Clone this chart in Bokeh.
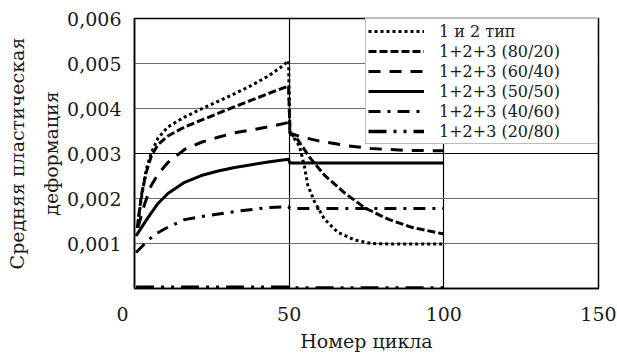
from bokeh.plotting import figure
from bokeh.models import FixedTicker, CustomJSTickFormatter, Span, Legend, LegendItem, Range1d
from bokeh.embed import file_html
from bokeh.resources import INLINE

# ---- data ----
x_type12 = [0.9, 2.2, 3.8, 5.4, 7.6, 10.8, 16.2, 21.6, 27, 32.4, 38, 43.2, 47, 49.8,
            50.2, 51.5, 53.3, 54.9, 56.0, 58.2, 61.4, 65.7, 71.1, 76.5, 82, 87.3, 93, 100]
y_type12 = [0.00135, 0.00200, 0.00265, 0.00301, 0.00334, 0.00359, 0.00381, 0.00399, 0.00416,
            0.00433, 0.00452, 0.00472, 0.00490, 0.00506,
            0.00346, 0.00335, 0.00317, 0.00273, 0.00230, 0.00193, 0.00154, 0.00125, 0.00108,
            0.00100, 0.00099, 0.00099, 0.00099, 0.00099]

x_8020 = [0.9, 2.2, 3.8, 5.4, 7.6, 10.8, 16.2, 21.6, 27, 32.4, 38, 43.2, 49.8,
          50.3, 52.7, 57.0, 61.4, 68.0, 74.5, 82.0, 89.6, 100]
y_8020 = [0.00135, 0.00207, 0.00258, 0.00294, 0.00320, 0.00339, 0.00359, 0.00374, 0.00389,
          0.00404, 0.00419, 0.00433, 0.00450,
          0.00345, 0.00331, 0.00288, 0.00252, 0.00212, 0.00179, 0.00154, 0.00136, 0.00121]

x_6040 = [1.1, 3.2, 5.4, 7.6, 10.8, 16.2, 21.6, 27, 32.4, 43.2, 49.8,
          50.3, 53.8, 59.5, 68.0, 76.5, 87.3, 100]
y_6040 = [0.00135, 0.00186, 0.00229, 0.00254, 0.00280, 0.00309, 0.00325, 0.00336, 0.00346,
          0.00359, 0.00369,
          0.00345, 0.00337, 0.00328, 0.00318, 0.00311, 0.00307, 0.00306]

x_5050 = [0.5, 4.3, 7.6, 10.8, 16.2, 21.6, 27, 32.4, 43.2, 49.8, 50.2, 100]
y_5050 = [0.00117, 0.00157, 0.00189, 0.00211, 0.00236, 0.00251, 0.00261, 0.00269, 0.00281,
          0.00287, 0.00279, 0.00279]

x_4060 = [0.5, 3.2, 6.5, 10.8, 16.2, 21.6, 32.4, 43.2, 49.8, 50.2, 100]
y_4060 = [0.00080, 0.00099, 0.00120, 0.00136, 0.00153, 0.00160, 0.00171, 0.00180, 0.00182,
          0.00178, 0.00178]

x_2080 = [0.5, 50, 50.2, 100]
y_2080 = [0.00003, 0.00003, 0.00001, 0.00001]

labels = ["1 и 2 тип", "1+2+3 (80/20)", "1+2+3 (60/40)", "1+2+3 (50/50)",
          "1+2+3 (40/60)", "1+2+3 (20/80)"]
x_ticks = [0, 50, 100, 150]
y_ticks = [0.001, 0.002, 0.003, 0.004, 0.005, 0.006]

FONT = "DejaVu Serif"
TXT = "#1a1a1a"

p = figure(width=617, height=354, output_backend="svg", toolbar_location=None,
           x_range=Range1d(0, 150), y_range=Range1d(0, 0.006),
           min_border_left=134, min_border_right=19, min_border_top=18, min_border_bottom=60)

p.background_fill_color = "white"
p.border_fill_color = "white"
p.outline_line_color = "black"
p.outline_line_width = 1.5

# axes
p.xaxis.ticker = FixedTicker(ticks=x_ticks)
p.xaxis.major_label_overrides = {0: "0\u00a0\u00a0\u00a0\u00a0"}
p.yaxis.ticker = FixedTicker(ticks=y_ticks)
p.yaxis.formatter = CustomJSTickFormatter(code="return tick.toFixed(3).replace('.', ',');")
for ax in (p.xaxis[0], p.yaxis[0]):
    ax.major_tick_line_color = None
    ax.minor_tick_line_color = None
    ax.axis_line_color = "black"
    ax.axis_line_width = 1.5
    ax.major_label_text_font = FONT
    ax.major_label_text_font_size = "19px"
    ax.major_label_text_color = TXT
    ax.axis_label_text_font = FONT
    ax.axis_label_text_font_size = "19px"
    ax.axis_label_text_font_style = "normal"
    ax.axis_label_text_color = TXT
p.yaxis.axis_label_text_line_height = 1.55
p.xaxis.major_label_standoff = 8
p.yaxis.major_label_standoff = 7
p.xaxis.axis_label = "Номер цикла"
p.yaxis.axis_label = "Средняя пластическая\nдеформация"
p.xaxis.axis_label_standoff = 2
p.yaxis.axis_label_standoff = 2

# grid
p.xgrid.ticker = FixedTicker(ticks=[50, 100])
p.xgrid.grid_line_color = "black"
p.xgrid.grid_line_width = 1.2
p.ygrid.ticker = FixedTicker(ticks=[0.001, 0.002, 0.004, 0.005])
p.ygrid.grid_line_color = "#6e6e6e"
p.ygrid.grid_line_width = 1.2
p.add_layout(Span(location=0.003, dimension="width", line_color="black", line_width=1.2))

styles = [
    (x_type12, y_type12, 3, "3 3"),
    (x_8020, y_8020, 3, "8 3"),
    (x_6040, y_6040, 3, "12 9"),
    (x_5050, y_5050, 3, "solid"),
    (x_4060, y_4060, 3, "12 7 3 7"),
    (x_2080, y_2080, 3.5, "18 7 3 7 3 7"),
]
items = []
for (xs, ys, w, dash), lab in zip(styles, labels):
    r = p.line(xs, ys, line_color="black", line_width=w, line_dash=dash)
    items.append(LegendItem(label=lab, renderers=[r]))

legend = Legend(items=items, location="top_right")
legend.label_text_font = FONT
legend.label_text_font_size = "16px"
legend.label_text_color = TXT
legend.glyph_width = 56
legend.glyph_height = 20
legend.label_height = 20
legend.label_width = 156
legend.label_standoff = 15
legend.spacing = 0
legend.padding = 2
legend.margin = 0
legend.border_line_color = "#777777"
legend.border_line_width = 1.5
legend.background_fill_color = "white"
legend.background_fill_alpha = 1.0
p.add_layout(legend, "center")

open("out.html", "w").write(file_html(p, INLINE))
